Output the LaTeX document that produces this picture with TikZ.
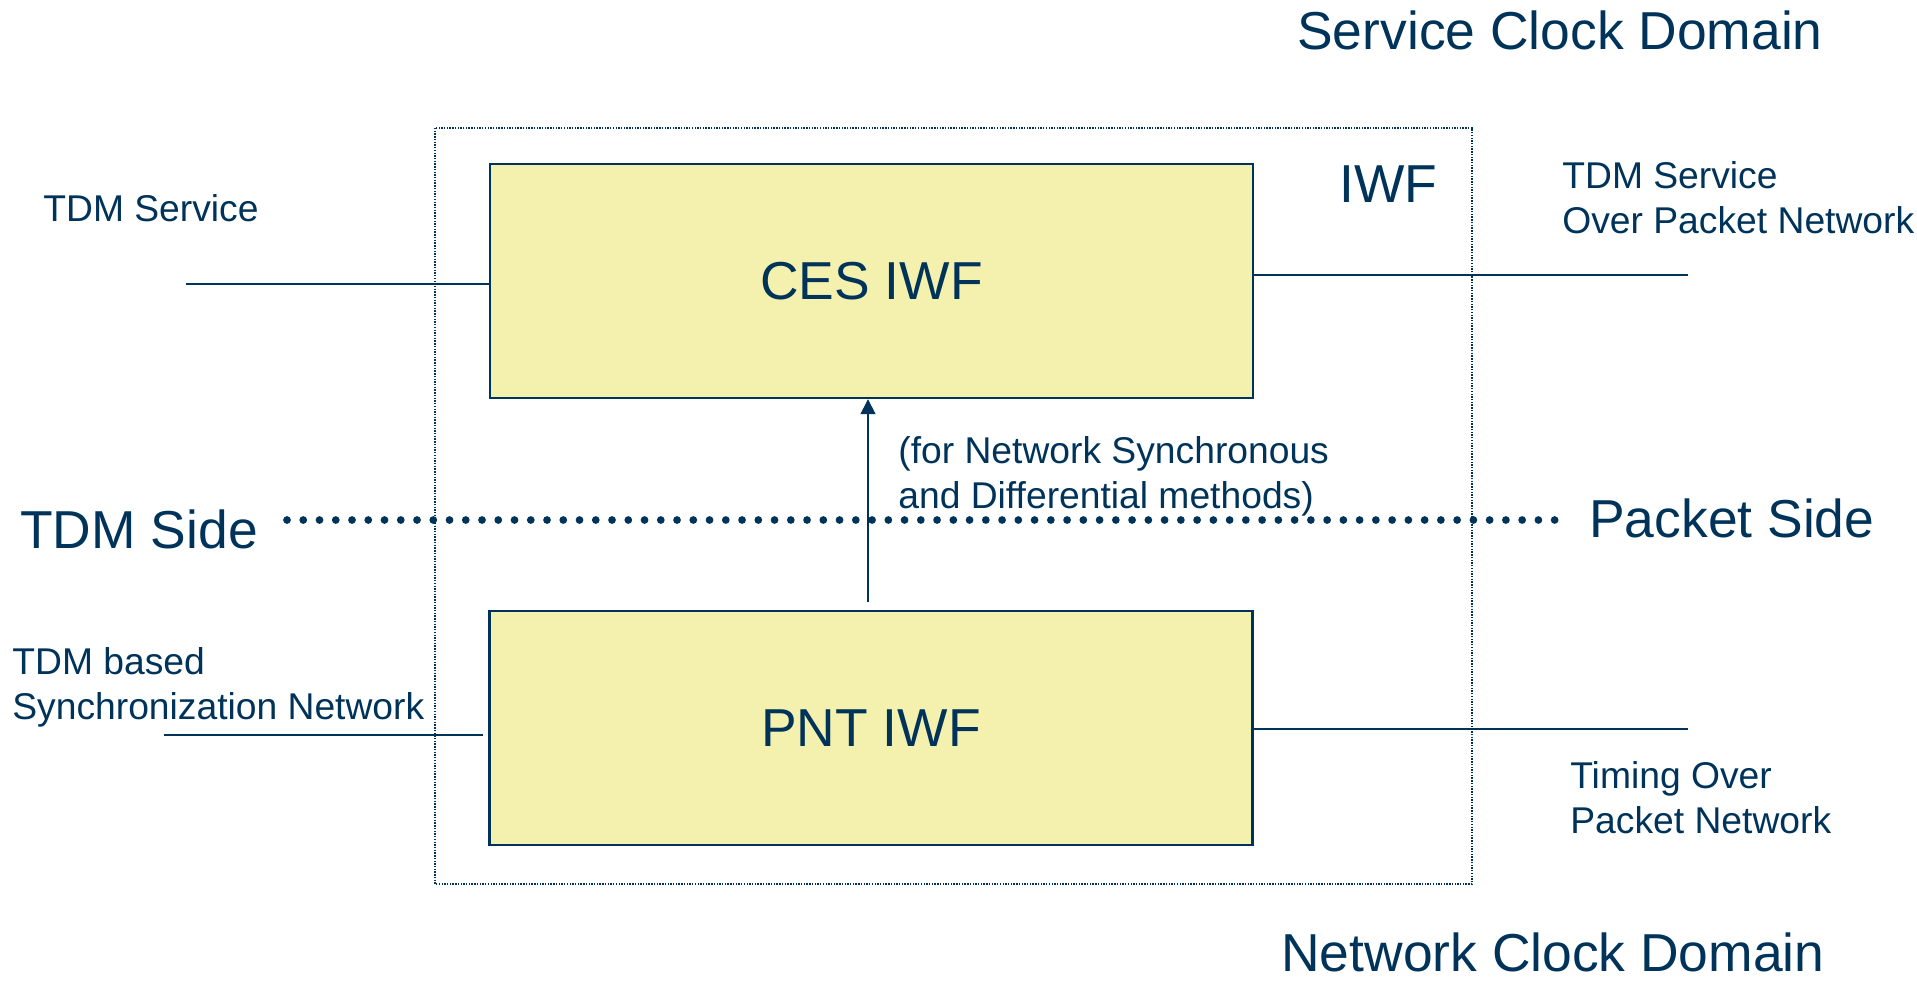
\documentclass[tikz,border=0pt]{standalone}
\usepackage{fontspec}
\setmainfont{Liberation Sans}
\usepackage{tikz}
\usetikzlibrary{arrows.meta,positioning,calc}
\definecolor{navy}{HTML}{003359}
\definecolor{iwfyellow}{HTML}{F4F1AE}

\begin{document}
\begin{tikzpicture}[x=0.02cm, y=-0.02cm,
  every node/.style={text=navy},
  iwfblock/.style={draw=navy, line width=1.4pt, fill=iwfyellow, minimum width=15.26cm, minimum height=4.68cm, font=\fontsize{30.4}{36}\selectfont},
  bigtext/.style={anchor=base west, inner sep=0pt, font=\fontsize{30.4}{36}\selectfont},
  smalltext/.style={anchor=base west, inner sep=0pt, align=left, font=\fontsize{21.2}{25.6}\selectfont},
  wire/.style={draw=navy, line width=1.1pt},
]
\useasboundingbox (0,0) rectangle (1917,981);
% IWF frame
\draw[navy, line width=0.8pt, dash pattern=on 0.8pt off 0.75pt] (435,128) rectangle (1472,884);
% Blocks
\node[iwfblock] (ces) at (871.5,281) {CES IWF};
\node[iwfblock] (pnt) at (871,728) {PNT IWF};
% Domain and side labels
\node[bigtext] (svcdomain) at (1297,49) {Service Clock Domain};
\node[bigtext] (netdomain) at (1281,971) {Network Clock Domain};
\node[bigtext] (iwflabel) at (1339,202) {IWF};
\node[bigtext] (tdmside) at (20,548) {TDM Side};
\node[bigtext] (pktside) at (1589,537) {Packet Side};
% Divider
\draw[navy, line width=4.4pt, line cap=round, dash pattern=on 0pt off 9.25pt] (287,520) -- (1558,520);
% Port labels (base = last line)
\node[smalltext] (tdmsvc) at (43,221) {TDM Service};
\node[smalltext] (tdmpkt) at (1562,233) {TDM Service\\Over Packet Network};
\node[smalltext] (syncnet) at (12,719) {TDM based\\Synchronization Network};
\node[smalltext] (top) at (1570,833) {Timing Over\\Packet Network};
\node[smalltext] (methods) at (898,508) {(for Network Synchronous\\and Differential methods)};
% Connectors
\coordinate (tdmin) at (186,284);
\coordinate (cesout) at (1688,275);
\coordinate (syncin) at (164,735);
\coordinate (pntout) at (1688,729);
\coordinate (arrowfoot) at (868,602);
\draw[wire] (tdmin) -- (tdmin -| ces.west);
\draw[wire] (cesout -| ces.east) -- (cesout);
\draw[wire] (syncin) -- ([xshift=-0.1cm]syncin -| pnt.west);
\draw[wire] (pntout -| pnt.east) -- (pntout);
\draw[wire, line width=0.9pt, -{Triangle[width=8.5pt,length=8.5pt]}] (arrowfoot) -- (arrowfoot |- ces.south);
\end{tikzpicture}
\end{document}
